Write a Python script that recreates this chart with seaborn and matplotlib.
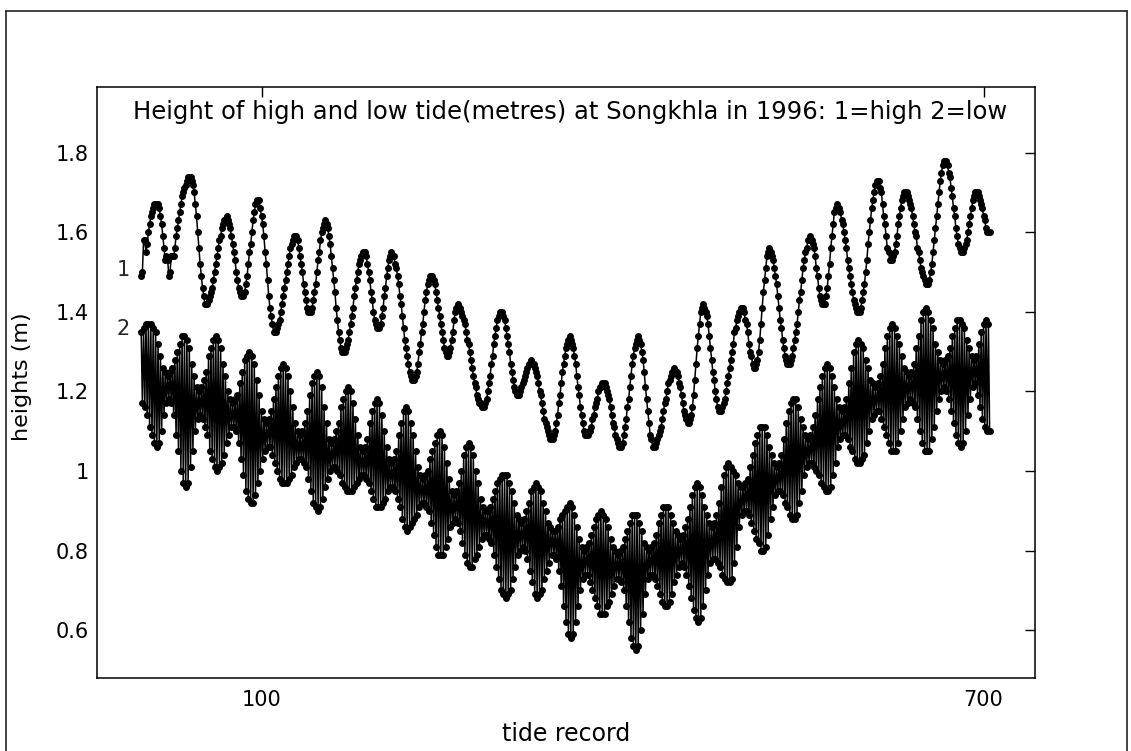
import numpy as np
import matplotlib
matplotlib.use("Agg")
import matplotlib.pyplot as plt
from matplotlib.lines import Line2D
import seaborn as sns

# ---------------- data ----------------
high_tide = [
    1.49, 1.50, 1.58, 1.58, 1.55, 1.57, 1.60, 1.62, 1.64, 1.65, 1.66, 1.67, 1.67, 1.67, 1.67,
    1.66, 1.64, 1.62, 1.59, 1.56, 1.53, 1.54, 1.53, 1.49, 1.50, 1.54,
    1.54, 1.54, 1.56, 1.59, 1.61, 1.63, 1.65, 1.67, 1.69, 1.70, 1.71, 1.72, 1.73, 1.74, 1.74, 1.74,
    1.73, 1.72, 1.70, 1.67, 1.64, 1.60, 1.56, 1.52, 1.49, 1.46, 1.44, 1.42, 1.42,
    1.42, 1.43, 1.44, 1.45, 1.46, 1.48, 1.50, 1.52, 1.54, 1.56, 1.58, 1.59, 1.61, 1.62, 1.63, 1.63, 1.64,
    1.63, 1.62, 1.61, 1.59, 1.57, 1.55, 1.53, 1.50, 1.48, 1.46, 1.45, 1.44, 1.44,
    1.44, 1.45, 1.47, 1.49, 1.52, 1.55, 1.57, 1.60, 1.63, 1.65, 1.67, 1.68, 1.68,
    1.68, 1.66, 1.64, 1.62, 1.59, 1.55, 1.52, 1.48, 1.44, 1.41, 1.39, 1.37, 1.35, 1.35,
    1.35, 1.36, 1.37, 1.38, 1.40, 1.42, 1.44, 1.46, 1.48, 1.50, 1.52, 1.54, 1.56, 1.57, 1.58, 1.59, 1.59,
    1.59, 1.58, 1.56, 1.54, 1.52, 1.50, 1.47, 1.45, 1.43, 1.41, 1.40, 1.40,
    1.40, 1.41, 1.43, 1.45, 1.47, 1.50, 1.53, 1.55, 1.58, 1.60, 1.61, 1.62, 1.63,
    1.62, 1.61, 1.59, 1.57, 1.54, 1.51, 1.48, 1.45, 1.41, 1.38, 1.35, 1.33, 1.31, 1.30, 1.30,
    1.30, 1.31, 1.32, 1.33, 1.35, 1.37, 1.39, 1.41, 1.44, 1.46, 1.48, 1.50, 1.52, 1.53, 1.54, 1.55, 1.55,
    1.55, 1.54, 1.52, 1.50, 1.48, 1.45, 1.43, 1.40, 1.38, 1.37, 1.36, 1.36,
    1.36, 1.37, 1.39, 1.41, 1.44, 1.46, 1.49, 1.51, 1.53, 1.54, 1.55,
    1.54, 1.54, 1.52, 1.51, 1.49, 1.47, 1.44, 1.42, 1.39, 1.36, 1.33, 1.31, 1.29, 1.27, 1.25, 1.24, 1.23, 1.23,
    1.23, 1.24, 1.25, 1.27, 1.30, 1.32, 1.35, 1.37, 1.40, 1.43, 1.45, 1.47, 1.48, 1.49, 1.49,
    1.49, 1.48, 1.47, 1.45, 1.43, 1.41, 1.39, 1.37, 1.35, 1.33, 1.31, 1.30, 1.29, 1.29,
    1.30, 1.31, 1.33, 1.35, 1.38, 1.40, 1.41, 1.42,
    1.41, 1.41, 1.40, 1.39, 1.38, 1.37, 1.35, 1.33, 1.32, 1.30, 1.28, 1.26, 1.24, 1.22, 1.21, 1.19, 1.18, 1.17, 1.17, 1.16, 1.16,
    1.16, 1.17, 1.18, 1.20, 1.22, 1.24, 1.27, 1.29, 1.32, 1.34, 1.36, 1.38, 1.39, 1.40, 1.40,
    1.40, 1.39, 1.38, 1.36, 1.34, 1.32, 1.30, 1.27, 1.25, 1.23, 1.21, 1.20, 1.19, 1.19,
    1.19, 1.20, 1.21, 1.22, 1.23, 1.24, 1.25, 1.26, 1.27, 1.27, 1.28,
    1.27, 1.27, 1.26, 1.25, 1.24, 1.22, 1.20, 1.19, 1.17, 1.15, 1.13, 1.12, 1.11, 1.10, 1.09, 1.08, 1.08,
    1.08, 1.09, 1.10, 1.12, 1.14, 1.17, 1.19, 1.22, 1.25, 1.27, 1.29, 1.31, 1.32, 1.33, 1.34,
    1.33, 1.32, 1.31, 1.29, 1.27, 1.24, 1.21, 1.19, 1.16, 1.14, 1.12, 1.10, 1.09, 1.09,
    1.09, 1.10, 1.10, 1.11, 1.13, 1.14, 1.16, 1.17, 1.18, 1.20, 1.21, 1.21, 1.22, 1.22,
    1.22, 1.21, 1.20, 1.19, 1.18, 1.16, 1.14, 1.12, 1.11, 1.09, 1.08, 1.07, 1.06, 1.06,
    1.06, 1.07, 1.09, 1.11, 1.13, 1.16, 1.18, 1.21, 1.24, 1.27, 1.29, 1.31, 1.32, 1.33, 1.34,
    1.33, 1.32, 1.30, 1.28, 1.25, 1.21, 1.18, 1.15, 1.12, 1.09, 1.08, 1.06, 1.06,
    1.06, 1.07, 1.08, 1.09, 1.10, 1.11, 1.13, 1.15, 1.17, 1.18, 1.20, 1.22, 1.23, 1.24, 1.25, 1.25, 1.26,
    1.25, 1.25, 1.24, 1.22, 1.21, 1.19, 1.17, 1.15, 1.14, 1.13, 1.12, 1.12,
    1.13, 1.14, 1.16, 1.19, 1.23, 1.27, 1.31, 1.34, 1.37, 1.40, 1.41, 1.42,
    1.41, 1.40, 1.39, 1.37, 1.34, 1.31, 1.28, 1.25, 1.23, 1.20, 1.18, 1.16, 1.15, 1.15,
    1.15, 1.16, 1.17, 1.18, 1.20, 1.22, 1.24, 1.26, 1.28, 1.30, 1.32, 1.35, 1.36, 1.38, 1.39, 1.40, 1.41, 1.41,
    1.41, 1.40, 1.38, 1.37, 1.35, 1.32, 1.30, 1.29, 1.27, 1.26, 1.26,
    1.27, 1.28, 1.30, 1.33, 1.37, 1.41, 1.45, 1.48, 1.51, 1.54, 1.55, 1.56,
    1.55, 1.54, 1.53, 1.51, 1.49, 1.47, 1.44, 1.41, 1.38, 1.36, 1.33, 1.31, 1.29, 1.28, 1.27, 1.27,
    1.27, 1.28, 1.29, 1.31, 1.33, 1.35, 1.37, 1.40, 1.43, 1.45, 1.48, 1.51, 1.53, 1.55, 1.56, 1.58, 1.58, 1.59,
    1.58, 1.57, 1.56, 1.54, 1.51, 1.49, 1.46, 1.44, 1.43, 1.42, 1.42,
    1.42, 1.44, 1.46, 1.49, 1.52, 1.56, 1.59, 1.62, 1.65, 1.66, 1.67,
    1.66, 1.66, 1.65, 1.63, 1.62, 1.60, 1.58, 1.56, 1.53, 1.51, 1.49, 1.47, 1.45, 1.43, 1.42, 1.41, 1.40, 1.40,
    1.40, 1.41, 1.43, 1.45, 1.47, 1.50, 1.53, 1.57, 1.60, 1.63, 1.66, 1.68, 1.70, 1.72, 1.73, 1.73,
    1.73, 1.71, 1.70, 1.67, 1.64, 1.62, 1.59, 1.56, 1.55, 1.53, 1.53,
    1.53, 1.54, 1.55, 1.57, 1.59, 1.62, 1.64, 1.66, 1.68, 1.69, 1.70, 1.70,
    1.70, 1.69, 1.68, 1.67, 1.66, 1.64, 1.62, 1.60, 1.59, 1.56, 1.55, 1.53, 1.51, 1.50, 1.49, 1.48, 1.47, 1.47,
    1.47, 1.48, 1.50, 1.52, 1.55, 1.58, 1.61, 1.64, 1.67, 1.70, 1.73, 1.75, 1.77, 1.78, 1.78,
    1.78, 1.77, 1.75, 1.74, 1.71, 1.69, 1.66, 1.64, 1.61, 1.59, 1.57, 1.56, 1.55, 1.55,
    1.55, 1.56, 1.57, 1.58, 1.60, 1.62, 1.64, 1.66, 1.68, 1.69, 1.70, 1.70,
    1.70, 1.69, 1.68, 1.67, 1.66, 1.64, 1.63, 1.61, 1.60, 1.60, 1.60,
]

# low tides: the record alternates between the higher low water (odd records)
# and the lower low water (even records)
low_tide_higher = [
    1.35, 1.36, 1.37, 1.37, 1.37,
    1.36, 1.35, 1.32, 1.29, 1.26, 1.25, 1.24,
    1.25, 1.26, 1.28, 1.30, 1.32, 1.34, 1.34,
    1.33, 1.31, 1.27, 1.24, 1.21, 1.20,
    1.21, 1.23, 1.25, 1.29, 1.31, 1.33, 1.34,
    1.33, 1.31, 1.27, 1.24, 1.20, 1.18, 1.17,
    1.18, 1.19, 1.22, 1.25, 1.28, 1.29, 1.30,
    1.29, 1.27, 1.23, 1.19, 1.15, 1.13, 1.12,
    1.13, 1.15, 1.18, 1.21, 1.24, 1.26, 1.27,
    1.26, 1.24, 1.20, 1.16, 1.12, 1.10, 1.09,
    1.10, 1.12, 1.15, 1.19, 1.22, 1.24, 1.25,
    1.24, 1.21, 1.16, 1.12, 1.08, 1.07,
    1.08, 1.10, 1.12, 1.16, 1.18, 1.20, 1.21,
    1.20, 1.17, 1.13, 1.09, 1.06, 1.05,
    1.06, 1.08, 1.12, 1.15, 1.17, 1.18,
    1.17, 1.14, 1.10, 1.06, 1.03, 1.02,
    1.03, 1.05, 1.09, 1.12, 1.15, 1.16,
    1.15, 1.12, 1.09, 1.05, 1.01, 0.99, 0.98,
    0.99, 1.00, 1.03, 1.05, 1.07, 1.09, 1.10,
    1.09, 1.06, 1.02, 0.98, 0.95, 0.94,
    0.95, 0.97, 1.00, 1.04, 1.06, 1.07,
    1.06, 1.04, 1.00, 0.97, 0.93, 0.91, 0.90,
    0.90, 0.91, 0.93, 0.95, 0.97, 0.98, 0.99, 0.99,
    0.99, 0.97, 0.95, 0.92, 0.89, 0.88, 0.87,
    0.88, 0.90, 0.92, 0.95, 0.96, 0.97,
    0.96, 0.95, 0.92, 0.90, 0.87, 0.86, 0.85,
    0.85, 0.86, 0.88, 0.89, 0.90, 0.91, 0.92,
    0.91, 0.89, 0.86, 0.83, 0.81, 0.80,
    0.81, 0.82, 0.84, 0.86, 0.88, 0.89, 0.90,
    0.89, 0.88, 0.86, 0.83, 0.81, 0.80, 0.79,
    0.80, 0.81, 0.83, 0.85, 0.87, 0.89, 0.89,
    0.89, 0.87, 0.85, 0.82, 0.81, 0.80,
    0.81, 0.82, 0.84, 0.87, 0.89, 0.91, 0.91,
    0.91, 0.89, 0.87, 0.85, 0.84, 0.83,
    0.84, 0.86, 0.88, 0.91, 0.94, 0.96, 0.97,
    0.96, 0.94, 0.91, 0.89, 0.87, 0.86,
    0.87, 0.89, 0.92, 0.96, 0.99, 1.01, 1.02,
    1.01, 1.00, 0.99, 0.97, 0.96, 0.96,
    0.97, 0.98, 1.01, 1.04, 1.07, 1.09, 1.11, 1.11,
    1.11, 1.09, 1.06, 1.04, 1.02, 1.01,
    1.02, 1.04, 1.08, 1.12, 1.15, 1.17, 1.18,
    1.18, 1.16, 1.13, 1.11, 1.09, 1.08,
    1.09, 1.11, 1.14, 1.18, 1.21, 1.24, 1.26, 1.27,
    1.26, 1.24, 1.21, 1.18, 1.16, 1.15,
    1.16, 1.18, 1.22, 1.26, 1.30, 1.32, 1.33,
    1.32, 1.31, 1.28, 1.26, 1.23, 1.22, 1.21,
    1.22, 1.24, 1.27, 1.31, 1.34, 1.36, 1.37,
    1.36, 1.34, 1.32, 1.29, 1.26, 1.25, 1.24,
    1.25, 1.27, 1.31, 1.34, 1.38, 1.40, 1.41,
    1.40, 1.38, 1.36, 1.32, 1.30, 1.28, 1.27,
    1.28, 1.29, 1.31, 1.34, 1.36, 1.38, 1.38,
    1.37, 1.36, 1.33, 1.31, 1.29, 1.28,
    1.29, 1.32, 1.35, 1.37, 1.38, 1.37,
]

low_tide_lower = [
    1.17, 1.16, 1.14, 1.11, 1.09, 1.07, 1.06,
    1.07, 1.10, 1.14, 1.17, 1.18,
    1.17, 1.14, 1.09, 1.05, 1.00, 0.97, 0.96,
    0.97, 1.01, 1.05, 1.10, 1.13, 1.14,
    1.13, 1.11, 1.09, 1.05, 1.03, 1.01, 1.00,
    1.01, 1.02, 1.04, 1.07, 1.09, 1.11, 1.11,
    1.10, 1.07, 1.03, 0.99, 0.95, 0.93, 0.92,
    0.92, 0.94, 0.97, 1.00, 1.03, 1.05, 1.06,
    1.06, 1.04, 1.02, 1.00, 0.98, 0.97, 0.97,
    0.97, 0.98, 0.99, 1.01, 1.02, 1.03, 1.03,
    1.02, 1.01, 0.98, 0.95, 0.92, 0.91, 0.90,
    0.91, 0.93, 0.96, 0.98, 1.00, 1.01,
    1.01, 1.00, 0.99, 0.97, 0.96, 0.95, 0.95,
    0.95, 0.96, 0.97, 0.98, 0.99, 0.99,
    0.98, 0.97, 0.95, 0.93, 0.91, 0.91,
    0.91, 0.92, 0.93, 0.95, 0.96, 0.96,
    0.95, 0.93, 0.91, 0.88, 0.86, 0.85,
    0.86, 0.87, 0.88, 0.89, 0.91, 0.92, 0.92,
    0.91, 0.90, 0.87, 0.84, 0.81, 0.79, 0.79,
    0.79, 0.81, 0.83, 0.86, 0.87, 0.88,
    0.87, 0.85, 0.82, 0.79, 0.77, 0.76,
    0.76, 0.78, 0.79, 0.81, 0.83, 0.84, 0.84,
    0.83, 0.82, 0.79, 0.76, 0.73, 0.70, 0.69, 0.68,
    0.69, 0.70, 0.73, 0.76, 0.79, 0.80, 0.81,
    0.80, 0.78, 0.75, 0.72, 0.69, 0.68,
    0.69, 0.70, 0.73, 0.75, 0.77, 0.79, 0.79,
    0.78, 0.75, 0.71, 0.66, 0.62, 0.59, 0.58,
    0.59, 0.62, 0.66, 0.70, 0.73, 0.74,
    0.74, 0.72, 0.70, 0.68, 0.66, 0.64, 0.64,
    0.64, 0.66, 0.67, 0.69, 0.71, 0.73, 0.73,
    0.72, 0.70, 0.66, 0.62, 0.58, 0.56, 0.55,
    0.56, 0.60, 0.64, 0.69, 0.73, 0.74,
    0.74, 0.73, 0.71, 0.69, 0.67, 0.66, 0.66,
    0.67, 0.69, 0.72, 0.74, 0.76, 0.77,
    0.76, 0.74, 0.71, 0.68, 0.65, 0.63, 0.62,
    0.63, 0.66, 0.70, 0.74, 0.77, 0.78,
    0.78, 0.77, 0.76, 0.74, 0.73, 0.72, 0.72,
    0.73, 0.77, 0.81, 0.86, 0.89, 0.90,
    0.90, 0.89, 0.87, 0.85, 0.83, 0.82, 0.80, 0.80,
    0.81, 0.84, 0.88, 0.91, 0.94, 0.95,
    0.95, 0.94, 0.92, 0.91, 0.89, 0.88, 0.88,
    0.89, 0.92, 0.95, 0.99, 1.01, 1.02,
    1.02, 1.01, 1.00, 0.99, 0.97, 0.96, 0.95, 0.95,
    0.96, 0.99, 1.02, 1.06, 1.08, 1.09,
    1.09, 1.08, 1.06, 1.05, 1.03, 1.02, 1.02,
    1.03, 1.04, 1.07, 1.10, 1.13, 1.14, 1.15,
    1.15, 1.13, 1.11, 1.09, 1.07, 1.05, 1.05,
    1.05, 1.07, 1.10, 1.13, 1.16, 1.17, 1.18,
    1.17, 1.16, 1.13, 1.10, 1.07, 1.05, 1.05,
    1.05, 1.08, 1.11, 1.15, 1.18, 1.20, 1.21,
    1.20, 1.18, 1.15, 1.12, 1.09, 1.07, 1.06,
    1.07, 1.10, 1.14, 1.18, 1.21, 1.22,
    1.19, 1.16, 1.13, 1.11, 1.10, 1.10,
]

y_ticks = [0.6, 0.8, 1.0, 1.2, 1.4, 1.6, 1.8]
y_tick_labels = ["0.6", "0.8", "1", "1.2", "1.4", "1.6", "1.8"]
x_ticks = [100, 700]
x_tick_labels = ["100", "700"]
title_text = "Height of high and low tide(metres) at Songkhla in 1996: 1=high 2=low"
series_tags = ["1", "2"]

# ---------------- assemble ----------------
low_tide = [v for pair in zip(low_tide_higher, low_tide_lower) for v in pair]
x_high = np.arange(len(high_tide))
x_low = np.arange(len(low_tide))

sns.set_theme(style="white")
plt.rcParams["font.family"] = ["DejaVu Sans"]

fig = plt.figure(figsize=(11.31, 7.51), dpi=100)
ax = fig.add_axes([97 / 1131, 1 - 678 / 751, 938 / 1131, 591 / 751])

line_kw = dict(color="black", marker="o", markersize=5.0, markeredgewidth=0,
               linewidth=1.1, estimator=None, sort=False, legend=False)
sns.lineplot(x=x_low, y=low_tide, ax=ax, **line_kw)
sns.lineplot(x=x_high, y=high_tide, ax=ax, **line_kw)

ax.set_xlim(-36.7, 742.7)
ax.set_ylim(0.48, 1.965)
ax.set_xticks(x_ticks)
ax.set_xticklabels(x_tick_labels)
ax.set_yticks(y_ticks)
ax.set_yticklabels(y_tick_labels)
ax.tick_params(direction="in", length=7, width=1, top=True, right=True,
               labelsize=15, colors="black", pad=6)
ax.tick_params(axis="x", pad=9)
for s in ax.spines.values():
    s.set_visible(True)
    s.set_color("black")
    s.set_linewidth(1.1)

ax.set_xlabel("tide record", fontsize=17, color="black")
ax.set_ylabel("heights (m)", fontsize=16, color="black")
ax.xaxis.set_label_coords(0.5, -0.074)
ax.yaxis.set_label_coords(-0.069, 0.51)

ax.text(0.504, 0.958, title_text, transform=ax.transAxes, ha="center",
        va="center", fontsize=17.5, color="black")
ax.text(-15, 1.505, series_tags[0], ha="center", va="center", fontsize=15)
ax.text(-15, 1.358, series_tags[1], ha="center", va="center", fontsize=15)

# outer frame of the scanned page
fig.add_artist(Line2D([6 / 1131, 6 / 1131], [0, 1 - 11 / 751], transform=fig.transFigure,
                      color="#222222", lw=1.2))
fig.add_artist(Line2D([6 / 1131, 1127 / 1131], [1 - 11 / 751, 1 - 11 / 751],
                      transform=fig.transFigure, color="#222222", lw=1.2))
fig.add_artist(Line2D([1127 / 1131, 1127 / 1131], [0, 1 - 11 / 751], transform=fig.transFigure,
                      color="#222222", lw=1.2))

fig.savefig("out.png", dpi=100)
